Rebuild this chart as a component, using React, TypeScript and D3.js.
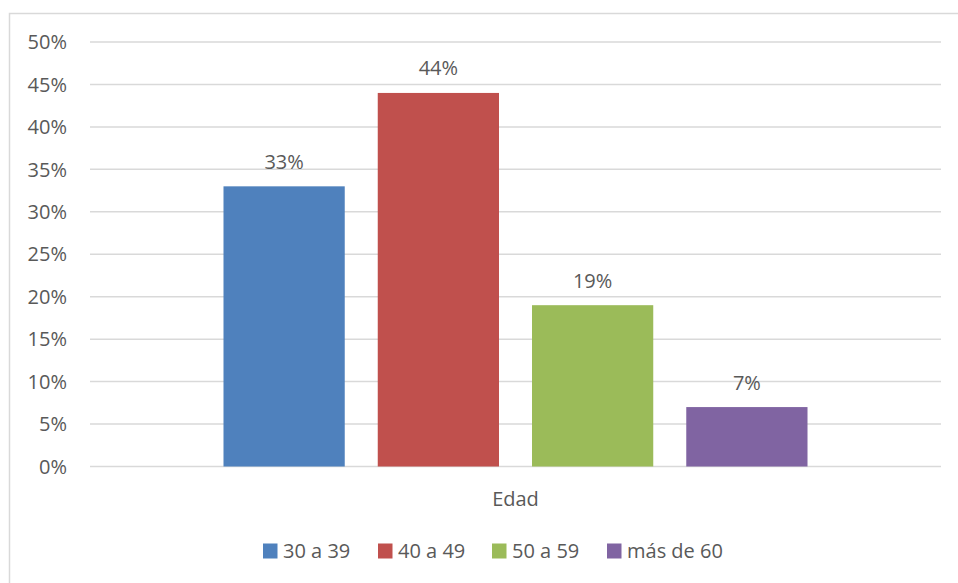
import React from "react";
import * as d3 from "d3";

// Age distribution, one category with four age brackets
const categories = ["Edad"];
const seriesNames = ["30 a 39", "40 a 49", "50 a 59", "más de 60"];
const seriesValues = [0.33, 0.44, 0.19, 0.07];
const seriesColors = ["#4F81BD", "#C0504D", "#9BBB59", "#8064A2"];
const yTicks = [0, 0.05, 0.1, 0.15, 0.2, 0.25, 0.3, 0.35, 0.4, 0.45, 0.5];

const W = 958;
const H = 583;
const plot = { left: 90, right: 941, top: 42, bottom: 466.5 };
const font = "'Open Sans', 'Liberation Sans', sans-serif";
const textColor = "#595959";
const gridColor = "#D9D9D9";

export default function App() {
  const y = d3.scaleLinear().domain([0, 0.5]).range([plot.bottom, plot.top]);
  const x0 = d3
    .scaleBand<string>()
    .domain(categories)
    .range([plot.left, plot.right])
    .paddingInner(0)
    .paddingOuter(0.1896);
  const x1 = d3
    .scaleBand<string>()
    .domain(seriesNames)
    .range([0, x0.bandwidth()])
    .paddingInner(0.214)
    .paddingOuter(0.107);
  const pct = d3.format(".0%");

  // Legend layout: swatch + label, measured from label widths
  const legendX = [263, 378, 492, 607];

  return (
    <svg
      width={W}
      height={H}
      style={{ position: "absolute", left: 0, top: 0, background: "#fff" }}
      fontFamily={font}
    >
      <rect x={9.5} y={13.5} width={W} height={H} fill="#fff" stroke={gridColor} strokeWidth={1.5} />

      {yTicks.map((t) => (
        <g key={t}>
          <line
            x1={plot.left}
            x2={plot.right}
            y1={y(t)}
            y2={y(t)}
            stroke={gridColor}
            strokeWidth={1.5}
          />
          <text
            x={67}
            y={y(t)}
            dy="0.36em"
            textAnchor="end"
            fontSize={20}
            fill={textColor}
          >
            {pct(t)}
          </text>
        </g>
      ))}

      {categories.map((c) => (
        <g key={c} transform={`translate(${x0(c)},0)`}>
          {seriesNames.map((s, i) => {
            const bx = x1(s)!;
            const by = y(seriesValues[i]);
            return (
              <g key={s}>
                <rect
                  x={bx}
                  y={by}
                  width={x1.bandwidth()}
                  height={y(0) - by}
                  fill={seriesColors[i]}
                />
                <text
                  x={bx + x1.bandwidth() / 2}
                  y={by - 17.5}
                  textAnchor="middle"
                  fontSize={20}
                  fill={textColor}
                >
                  {pct(seriesValues[i])}
                </text>
              </g>
            );
          })}
          <text
            x={x0.bandwidth() / 2}
            y={506}
            textAnchor="middle"
            fontSize={20}
            fill={textColor}
          >
            {c}
          </text>
        </g>
      ))}

      {seriesNames.map((s, i) => (
        <g key={s} transform={`translate(${legendX[i]},0)`}>
          <rect x={0} y={543.5} width={14.5} height={15} fill={seriesColors[i]} />
          <text x={20} y={558} fontSize={20} fill={textColor}>
            {s}
          </text>
        </g>
      ))}
    </svg>
  );
}
